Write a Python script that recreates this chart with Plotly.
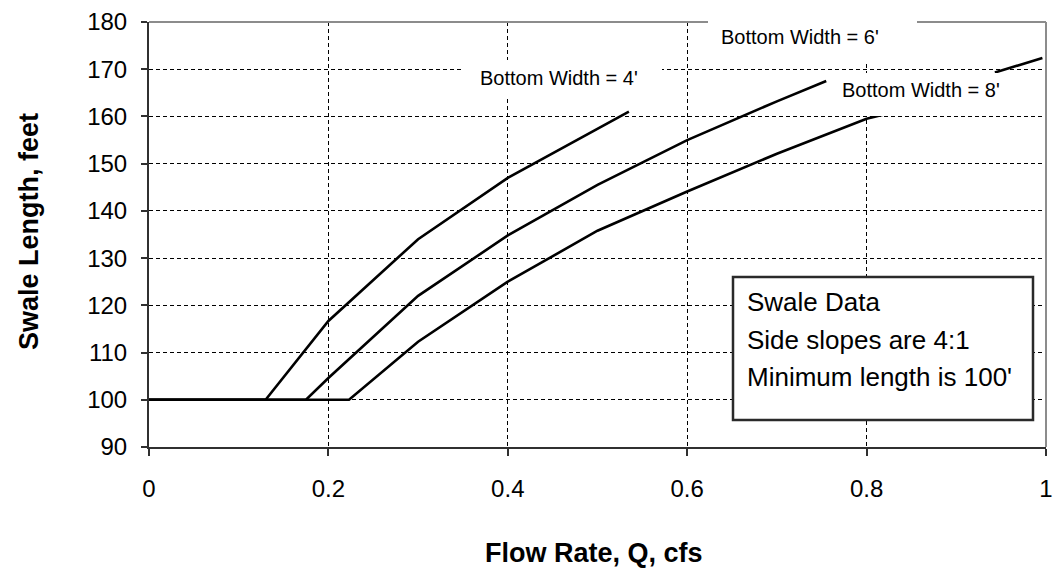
import plotly.graph_objects as go

# ---- data ----
bw4_q = [0, 0.13, 0.2, 0.3, 0.4, 0.5, 0.535]
bw4_len = [100, 100, 116.7, 134, 147, 157.5, 161]

bw6_q = [0, 0.175, 0.2, 0.3, 0.4, 0.5, 0.6, 0.7, 0.755]
bw6_len = [100, 100, 104.6, 122, 134.8, 145.5, 155, 163.2, 167.5]

bw8_q = [0, 0.223, 0.3, 0.4, 0.5, 0.6, 0.7, 0.8, 0.825]
bw8_len = [100, 100, 112.3, 125, 135.8, 144.1, 152.1, 159.5, 160.7]

extra_q = [0.943, 0.996]
extra_len = [169.3, 172.4]

x_ticks = [0, 0.2, 0.4, 0.6, 0.8, 1]
x_tick_text = ["0", "0.2", "0.4", "0.6", "0.8", "1"]
y_ticks = [90, 100, 110, 120, 130, 140, 150, 160, 170, 180]

FONT = "Liberation Sans, Arial, sans-serif"

fig = go.Figure()
for qx, ly in [(bw4_q, bw4_len), (bw6_q, bw6_len), (bw8_q, bw8_len), (extra_q, extra_len)]:
    fig.add_trace(go.Scatter(x=qx, y=ly, mode="lines",
                             line=dict(color="black", width=2.6),
                             hoverinfo="skip", showlegend=False))

W, H = 1054, 571
# plot area in page pixels: x 149..1046, y 22..447
PL, PR, PT, PB = 149, 1046, 22, 447
L, T = PL, PT
R = W - PR
B = H - PB
pw, ph = PR - PL, PB - PT


def px(xp):
    return (xp - PL) / pw


def py(yp):
    return (PB - yp) / ph


fig.update_layout(
    width=W, height=H,
    margin=dict(l=L, r=R, t=T, b=B, autoexpand=False),
    paper_bgcolor="white", plot_bgcolor="white",
    font=dict(family=FONT, color="black"),
    xaxis=dict(range=[0, 1], tickvals=x_ticks, ticktext=x_tick_text,
               showgrid=True, gridcolor="black", griddash="4px,3px", gridwidth=1,
               showline=True, linecolor="#303030", linewidth=2,
               ticks="outside", ticklen=7, tickcolor="#303030", tickwidth=1.5,
               tickfont=dict(size=24), ticklabelstandoff=12, zeroline=False,
               automargin=False),
    yaxis=dict(range=[90, 180], tickvals=y_ticks,
               showgrid=True, gridcolor="black", griddash="4px,3px", gridwidth=1,
               showline=True, linecolor="#303030", linewidth=2,
               ticks="outside", ticklen=6, tickcolor="#303030", tickwidth=1.5,
               tickfont=dict(size=24), ticklabelstandoff=9, zeroline=False,
               automargin=False),
)

# top and right borders (gray)
fig.add_shape(type="line", xref="paper", yref="paper", x0=0, x1=1, y0=1, y1=1,
              line=dict(color="#8c8c8c", width=2), layer="above")
fig.add_shape(type="line", xref="paper", yref="paper", x0=1, x1=1, y0=0, y1=1,
              line=dict(color="#8c8c8c", width=2), layer="above")

# info box
fig.add_shape(type="rect", xref="paper", yref="paper",
              x0=px(733), x1=px(1033), y0=py(420), y1=py(277),
              line=dict(color="#2a2a2a", width=2.5), fillcolor="white", layer="above")
for txt, yc in [("Swale Data", 302), ("Side slopes are 4:1", 340), ("Minimum length is 100'", 377)]:
    fig.add_annotation(text=txt, xref="paper", yref="paper", x=px(745), y=py(yc),
                       xanchor="left", yanchor="middle", showarrow=False,
                       font=dict(size=26, color="black", family=FONT))

# curve labels with white backgrounds
labels = [
    ("Bottom Width = 4'", (463, 662, 60, 97), (559, 78)),
    ("Bottom Width = 6'", (708, 917, 20, 63), (800, 37)),
    ("Bottom Width = 8'", (832, 1010, 73, 116), (921, 90)),
]
for txt, (bx0, bx1, by0, by1), (tx, ty) in labels:
    fig.add_annotation(text=" ", xref="paper", yref="paper",
                       x=px((bx0 + bx1) / 2), y=py((by0 + by1) / 2),
                       xanchor="center", yanchor="middle", showarrow=False,
                       width=bx1 - bx0, height=by1 - by0, bgcolor="white",
                       borderwidth=0, borderpad=0, font=dict(size=10))
    fig.add_annotation(text=txt, xref="paper", yref="paper", x=px(tx), y=py(ty),
                       xanchor="center", yanchor="middle", showarrow=False,
                       font=dict(size=20, color="black", family=FONT))

# axis titles
fig.add_annotation(text="<b>Swale Length, feet</b>", xref="paper", yref="paper",
                   x=px(29), y=py(232), xanchor="center", yanchor="middle",
                   textangle=-90, showarrow=False, font=dict(size=27, family=FONT))
fig.add_annotation(text="<b>Flow Rate, Q, cfs</b>", xref="paper", yref="paper",
                   x=px(594), y=py(553), xanchor="center", yanchor="middle",
                   showarrow=False, font=dict(size=27, family=FONT))

fig.write_html("out.html", config={"displayModeBar": False},
               post_script="document.body.style.margin='0';")
